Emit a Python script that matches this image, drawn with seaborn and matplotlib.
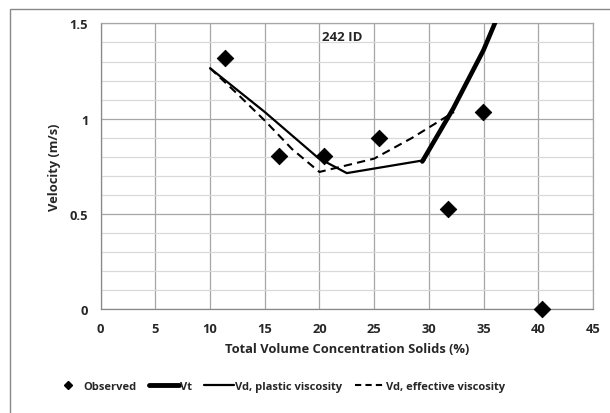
import numpy as np
import pandas as pd
import seaborn as sns
import matplotlib.pyplot as plt
from matplotlib.lines import Line2D
from matplotlib.patches import Rectangle
from matplotlib.ticker import MultipleLocator

# observed data
obs_x = [11.36, 16.3, 20.4, 25.47, 31.77, 34.97, 40.3]
obs_y = [1.316, 0.805, 0.805, 0.898, 0.525, 1.033, 0.0]

# Vt (thick line)
vt_x = [29.4, 32.2, 35.0, 37.5]
vt_y = [0.775, 1.05, 1.36, 1.70]

# Vd, plastic viscosity
vdp_x = [10.0, 15.0, 19.9, 22.5, 29.6]
vdp_y = [1.265, 1.035, 0.793, 0.714, 0.782]

# Vd, effective viscosity
vde_x = [10.0, 12.5, 15.0, 17.5, 20.0, 22.5, 25.0, 28.5, 32.3]
vde_y = [1.265, 1.13, 0.99, 0.84, 0.72, 0.755, 0.79, 0.90, 1.035]

xticks = [0, 5, 10, 15, 20, 25, 30, 35, 40, 45]
yticks = [0, 0.5, 1, 1.5]

sns.set_style("white")
plt.rcParams['font.family'] = ['Open Sans', 'DejaVu Sans']
plt.rcParams['font.weight'] = 'bold'

fig = plt.figure(figsize=(6.1, 4.14), dpi=100)
ax = fig.add_axes([0.165, 0.251, 0.807, 0.690])

# grid
ax.yaxis.set_minor_locator(MultipleLocator(0.1))
ax.grid(which='minor', axis='y', color='#d9d9d9', lw=0.9, zorder=0)
ax.grid(which='major', axis='both', color='#a6a6a6', lw=0.9, zorder=0)
ax.set_axisbelow(True)

sns.lineplot(x=vde_x, y=vde_y, ax=ax, color='black', lw=1.5,
             linestyle=(0, (4, 2.5)), zorder=3)
sns.lineplot(x=vdp_x, y=vdp_y, ax=ax, color='black', lw=1.6, zorder=3)
sns.lineplot(x=vt_x, y=vt_y, ax=ax, color='black', lw=3.3, zorder=4)
sns.scatterplot(x=obs_x, y=obs_y, ax=ax, marker='D', s=70, color='black',
                edgecolor='black', zorder=5, clip_on=False)

ax.set_xlim(0, 45)
ax.set_ylim(0, 1.5)
ax.set_xticks(xticks)
ax.set_yticks(yticks)
ax.set_yticklabels(['0', '0.5', '1', '1.5'])
ax.tick_params(axis='both', labelsize=9.3, length=4, color='#888888',
               direction='out', pad=5)
ax.tick_params(axis='y', which='minor', length=0)
for lbl in ax.get_xticklabels() + ax.get_yticklabels():
    lbl.set_fontweight('bold')

for sp in ax.spines.values():
    sp.set_color('#a6a6a6')
    sp.set_linewidth(0.9)
ax.spines['bottom'].set_color('#888888')
ax.spines['left'].set_color('#888888')

ax.set_xlabel('Total Volume Concentration Solids (%)', fontsize=9.3,
              fontweight='bold', labelpad=5)
ax.set_ylabel('Velocity (m/s)', fontsize=9.3, fontweight='bold', labelpad=6)
ax.text(20.2, 1.433, '242 ID', fontsize=9.5, fontweight='bold', va='center')

handles = [
    Line2D([], [], marker='D', color='black', ls='none', markersize=4.5),
    Line2D([], [], color='black', lw=3.5),
    Line2D([], [], color='black', lw=1.6),
    Line2D([], [], color='black', lw=1.5, linestyle=(0, (3, 2))),
]
labels = ['Observed', 'Vt', 'Vd, plastic viscosity', 'Vd, effective viscosity']
fig.legend(handles, labels, loc='center', bbox_to_anchor=(0.457, 0.065),
           ncol=4, frameon=False, handlelength=2.7, columnspacing=1.1,
           handletextpad=0.1, prop={'size': 8, 'weight': 'bold'})

fig.patches.append(Rectangle((10 / 610, -0.02), 1.0, 1 - 10 / 414 + 0.02,
                             transform=fig.transFigure, fill=False,
                             edgecolor='#888888', lw=1.0))

fig.savefig('out.png', dpi=100)
